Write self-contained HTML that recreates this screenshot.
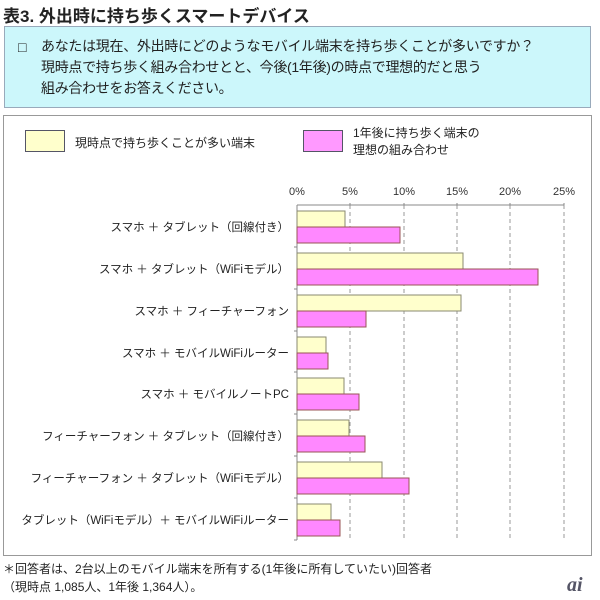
<!DOCTYPE html>
<html><head><meta charset="utf-8"><style>
body{margin:0;width:600px;height:600px;background:#fff;font-family:"Liberation Sans","Noto Sans CJK JP",sans-serif;color:#222;position:relative;overflow:hidden}
.a{position:absolute;white-space:nowrap}
</style></head><body>
<div class="a" style="left:3px;top:2px;font-size:17px;font-weight:bold;">表3. 外出時に持ち歩くスマートデバイス</div>
<div class="a" style="left:4px;top:26px;width:585px;height:80px;background:#ccf7fb;border:1px solid #9ab;"></div>
<div class="a" style="left:18px;top:37px;font-size:14px;line-height:21px;">□</div>
<div class="a" style="left:41px;top:36px;font-size:14px;line-height:21px;letter-spacing:-0.3px;">あなたは現在、外出時にどのようなモバイル端末を持ち歩くことが多いですか？<br>現時点で持ち歩く組み合わせとと、今後(1年後)の時点で理想的だと思う<br>組み合わせをお答えください。</div>
<div class="a" style="left:3px;top:115px;width:587px;height:439px;border:1px solid #999;"></div>
<div class="a" style="left:25px;top:130px;width:38px;height:20px;background:#ffffcc;border:1px solid #556;"></div>
<div class="a" style="left:75px;top:134px;font-size:12px;">現時点で持ち歩くことが多い端末</div>
<div class="a" style="left:303px;top:130px;width:38px;height:20px;background:#ff99ff;border:1px solid #556;"></div>
<div class="a" style="left:353px;top:125px;font-size:12px;line-height:17px;">1年後に持ち歩く端末の<br>理想の組み合わせ</div>
<svg class="a" style="left:0;top:0" width="600" height="600" font-family="Liberation Sans,Noto Sans CJK JP,sans-serif" font-size="11">
<g fill="#333" text-anchor="middle">
<text x="297" y="195">0%</text><text x="350" y="195">5%</text><text x="404" y="195">10%</text><text x="457" y="195">15%</text><text x="510" y="195">20%</text><text x="564" y="195">25%</text>
</g>
<g stroke="#999" stroke-dasharray="4,3">
<line x1="350" y1="205" x2="350" y2="540"/><line x1="404" y1="205" x2="404" y2="540"/><line x1="457" y1="205" x2="457" y2="540"/><line x1="510" y1="205" x2="510" y2="540"/><line x1="564" y1="205" x2="564" y2="540"/>
</g>
<g stroke="#888"><line x1="297" y1="205" x2="564" y2="205"/><line x1="297" y1="205" x2="297" y2="540"/>
<line x1="350" y1="203" x2="350" y2="205"/><line x1="404" y1="203" x2="404" y2="205"/><line x1="457" y1="203" x2="457" y2="205"/><line x1="510" y1="203" x2="510" y2="205"/><line x1="564" y1="203" x2="564" y2="205"/>
<line x1="294" y1="247" x2="297" y2="247"/><line x1="294" y1="289" x2="297" y2="289"/><line x1="294" y1="331" x2="297" y2="331"/><line x1="294" y1="372" x2="297" y2="372"/><line x1="294" y1="414" x2="297" y2="414"/><line x1="294" y1="456" x2="297" y2="456"/><line x1="294" y1="498" x2="297" y2="498"/><line x1="294" y1="540" x2="297" y2="540"/></g>
<g stroke="#8a8a70" fill="#ffffcc">
<rect x="297" y="211" width="48" height="16"/><rect x="297" y="253" width="166" height="16"/><rect x="297" y="295" width="164" height="16"/><rect x="297" y="337" width="29" height="16"/><rect x="297" y="378" width="47" height="16"/><rect x="297" y="420" width="52" height="16"/><rect x="297" y="462" width="85" height="16"/><rect x="297" y="504" width="34" height="16"/>
</g>
<g stroke="#955" fill="#ff88ff">
<rect x="297" y="227" width="103" height="16"/><rect x="297" y="269" width="241" height="16"/><rect x="297" y="311" width="69" height="16"/><rect x="297" y="353" width="31" height="16"/><rect x="297" y="394" width="62" height="16"/><rect x="297" y="436" width="68" height="16"/><rect x="297" y="478" width="112" height="16"/><rect x="297" y="520" width="43" height="16"/>
</g>
<g fill="#222" text-anchor="end" font-size="11.5">
<text x="289" y="231">スマホ ＋ タブレット（回線付き）</text>
<text x="289" y="273">スマホ ＋ タブレット（WiFiモデル）</text>
<text x="289" y="315">スマホ ＋ フィーチャーフォン</text>
<text x="289" y="357">スマホ ＋ モバイルWiFiルーター</text>
<text x="289" y="398">スマホ ＋ モバイルノートPC</text>
<text x="289" y="440">フィーチャーフォン ＋ タブレット（回線付き）</text>
<text x="289" y="482">フィーチャーフォン ＋ タブレット（WiFiモデル）</text>
<text x="289" y="524">タブレット（WiFiモデル）＋ モバイルWiFiルーター</text>
</g>
<g fill="#222" font-size="12">
<text x="3" y="573">＊回答者は、2台以上のモバイル端末を所有する(1年後に所有していたい)回答者</text>
<text x="3" y="591">（現時点 1,085人、1年後 1,364人）。</text>
</g>
<text x="567" y="591" fill="#556" font-size="20" font-style="italic" font-weight="bold" font-family="Liberation Serif,serif">ai</text>
</svg>
</body></html>
